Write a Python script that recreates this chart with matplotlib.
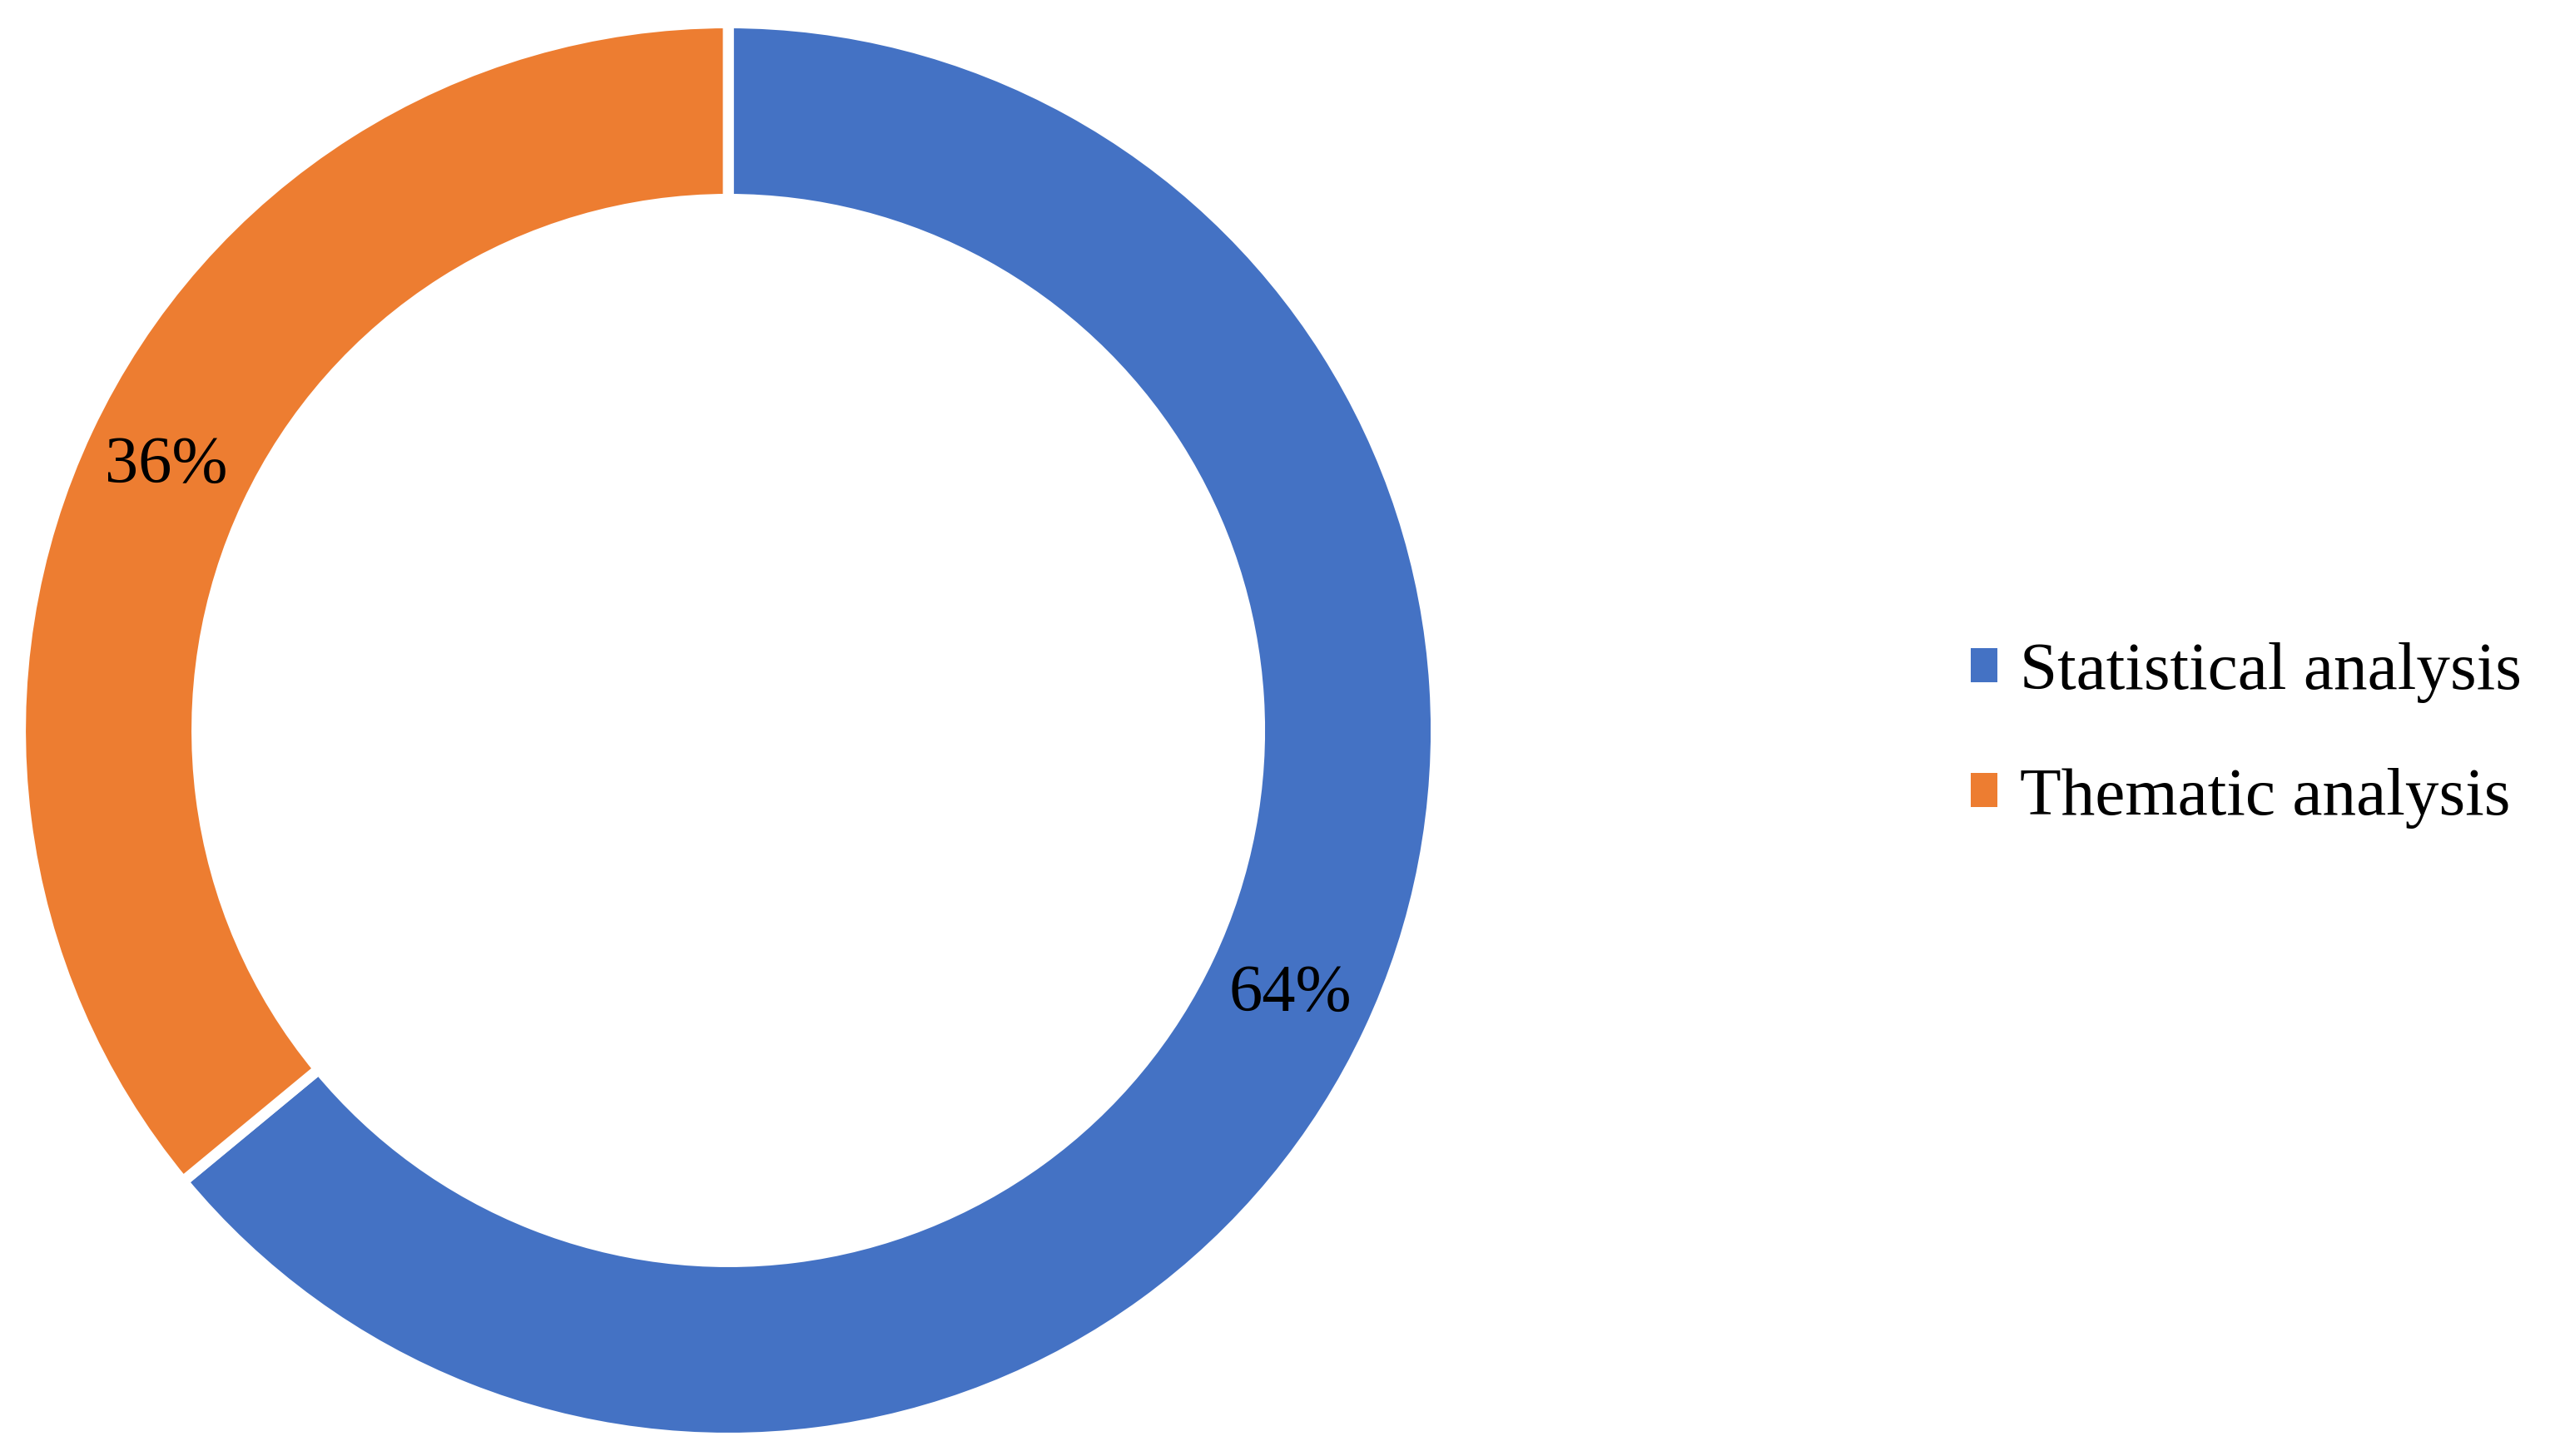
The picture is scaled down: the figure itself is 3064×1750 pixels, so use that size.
import matplotlib
matplotlib.use("Agg")
import matplotlib.pyplot as plt
from matplotlib.patches import Patch

plt.rcParams['font.family'] = ['Liberation Serif', 'DejaVu Serif']

labels = ["Statistical analysis", "Thematic analysis"]
shares = [64, 36]
colors = ["#4472C4", "#ED7D31"]

fig = plt.figure(figsize=(30.64, 17.5), dpi=100)
ax = fig.add_axes([0.008, 0.01229, 0.5552, 0.972])

wedges, texts, autotexts = ax.pie(
    shares, colors=colors, startangle=90, counterclock=False,
    autopct=lambda p: "{:.0f}%".format(p), pctdistance=0.877,
    wedgeprops=dict(width=0.2493, edgecolor="white", linewidth=9.4),
    textprops=dict(fontsize=58, color="black"))
ax.set_xlim(-1, 1)
ax.set_ylim(-1, 1)
ax.set_aspect("equal")
ax.axis("off")

handles = [Patch(facecolor=c, edgecolor="none") for c in colors]
fig.legend(handles, labels, loc="center left", bbox_to_anchor=(0.7728, 0.4949),
           frameon=False, fontsize=58.5, handlelength=0.4, handleheight=0.4,
           handletextpad=0.33, labelspacing=0.95, borderpad=0, borderaxespad=0)

fig.savefig("out.png", dpi=100, facecolor="white")
